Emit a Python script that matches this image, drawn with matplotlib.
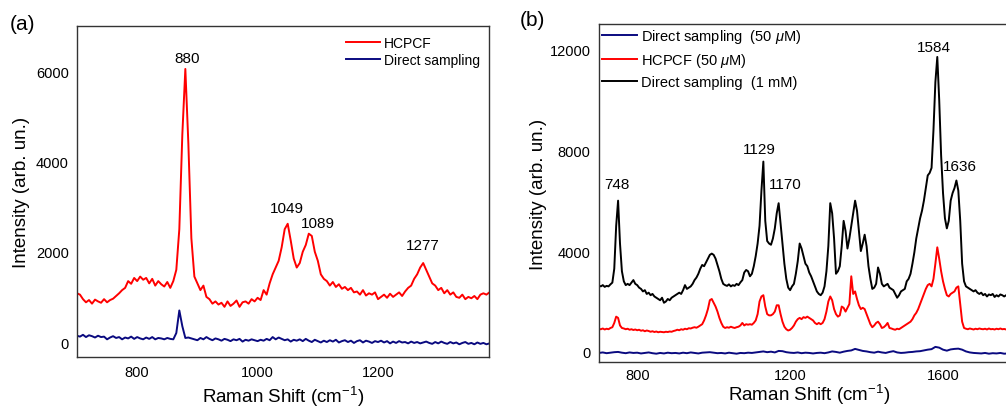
import numpy as np
import matplotlib
matplotlib.use("Agg")
import matplotlib.pyplot as plt

plt.rcParams["font.family"] = ["Liberation Sans", "DejaVu Sans"]
plt.rcParams["mathtext.fontset"] = "custom"
plt.rcParams["mathtext.rm"] = "Liberation Sans"
plt.rcParams["mathtext.it"] = "Liberation Sans:italic"

RED = "#ff0000"
NAVY = "#0a0a80"

# ---------- panel (a): 700-1385 cm-1, step 5 ----------
shift_a = np.arange(700, 1390, 5)
hcpcf_a = [
    1080, 1050, 950, 880, 930, 850, 940, 900, 870, 950,
    880, 930, 960, 1020, 1080, 1150, 1200, 1350, 1290, 1420,
    1350, 1450, 1380, 1420, 1300, 1400, 1250, 1350, 1280, 1230,
    1330, 1200, 1350, 1600, 2500, 4600, 6050, 4400, 2300, 1450,
    1300, 1150, 1250, 1000, 950, 850, 900, 830, 870, 780,
    900, 800, 850, 920, 780, 880, 900, 850, 950, 900,
    980, 930, 1150, 1050, 1300, 1500, 1650, 1800, 2100, 2500,
    2620, 2250, 1850, 1650, 1750, 2000, 2150, 2400, 2350, 2000,
    1800, 1500, 1400, 1350, 1250, 1330, 1220, 1280, 1180, 1220,
    1150, 1200, 1100, 1120, 1050, 1150, 1030, 1080, 1050, 1100,
    950, 1000, 1050, 980, 1070, 1000, 1050, 1100, 1020, 1120,
    1200, 1250, 1400, 1500, 1650, 1750, 1600, 1450, 1300, 1250,
    1150, 1200, 1080, 1150, 1050, 1100, 1000, 980, 1050, 950,
    1000, 970, 1020, 950, 1050, 1080, 1050, 1100,
]
direct_a = [
    140, 120, 160, 110, 150, 130, 100, 140, 110, 120,
    60, 100, 130, 90, 110, 60, 100, 80, 120, 70,
    110, 80, 60, 100, 70, 110, 60, 90, 80, 60,
    90, 70, 60, 200, 700, 350, 90, 100, 80, 60,
    40, 90, 60, 110, 70, 40, 80, 60, 30, 70,
    50, 20, 60, 40, 70, 10, 50, 30, 60, 40,
    20, 50, 30, 70, 40, 110, 60, 100, 70, 40,
    60, 10, 50, 30, 60, 20, 70, 30, 0, 50,
    20, -10, 30, 0, 40, 10, 50, -10, 20, 40,
    0, 30, -20, 20, 40, -10, 30, 10, -20, 20,
    0, 30, -10, 20, -30, 10, -20, 20, -10, 0,
    -30, 10, -20, 0, -30, -10, 10, -20, -40, 0,
    -30, 10, -20, -40, 0, -30, -10, -50, -20, 0,
    -40, -20, -50, -10, -40, -20, -50, -30,
]
peaks_a = [880, 1049, 1089, 1277]
peak_text_a = [(883, 6300), (1049, 2980), (1100, 2630), (1275, 2140)]

# ---------- panel (b): 700-1800 cm-1 ----------
shift_b = np.arange(700, 1805, 5)
direct_1mM = [
    2630, 2600, 2650, 2580, 2620, 2600, 2680, 2750, 3300, 5000,
    6000, 4300, 3200, 2800, 2650, 2700, 2650, 2750, 2850, 2700,
    2650, 2550, 2500, 2400, 2450, 2300, 2350, 2250, 2300, 2200,
    2150, 2100, 2050, 2150, 1950, 2000, 2100, 2050, 2150, 2200,
    2250, 2300, 2350, 2300, 2450, 2650, 2500, 2550, 2600, 2700,
    2850, 2950, 3100, 3300, 3450, 3400, 3550, 3700, 3850, 3900,
    3850, 3700, 3450, 3200, 2900, 2700, 2650, 2620, 2680, 2600,
    2650, 2620, 2700, 2650, 2760, 2850, 3150, 3250, 3200, 3000,
    3100, 3400, 3800, 4300, 5000, 6400, 7550, 5200, 4400, 4300,
    4250, 4500, 4900, 5500, 5900, 5100, 4300, 3500, 2900, 2550,
    2450, 2600, 2700, 3100, 3600, 4300, 4100, 3800, 3500, 3400,
    3150, 3000, 2800, 2600, 2400, 2300, 2250, 2350, 2600, 3200,
    4200, 5900, 5500, 4500, 3100, 3200, 3400, 4200, 5200, 4800,
    4100, 4500, 5000, 5500, 6000, 5600, 4800, 4000, 4300, 4650,
    4200, 3400, 2900, 2500, 2550, 2700, 3350, 3100, 2700, 2600,
    2650, 2700, 2550, 2500, 2450, 2300, 2150, 2250, 2400, 2450,
    2500, 2800, 2900, 3100, 3500, 3950, 4500, 4900, 5300, 5600,
    6000, 6500, 7000, 7100, 7300, 8800, 10700, 11700, 10000, 7800,
    6300, 5300, 4900, 5200, 6000, 6300, 6500, 6800, 6400, 5200,
    3500, 2800, 2600, 2550, 2500, 2450, 2400, 2450, 2350, 2300,
    2350, 2250, 2300, 2200, 2280, 2250, 2300, 2180, 2250, 2200,
    2280, 2250, 2200, 2250, 2150, 2230, 2200, 2250, 2180, 2220,
    2200,
]
hcpcf_50uM = [
    910, 900, 930, 890, 920, 900, 950, 980, 1150, 1400,
    1350, 1050, 950, 930, 900, 920, 880, 900, 870, 890,
    860, 880, 840, 860, 820, 850, 830, 800, 820, 790,
    810, 780, 800, 790, 780, 800, 790, 810, 800, 830,
    850, 880, 860, 900, 880, 920, 900, 940, 930, 960,
    980, 960, 1000, 1050, 1100, 1250, 1450, 1700, 2050, 2100,
    1950, 1800, 1600, 1350, 1150, 1000, 950, 980, 960, 1000,
    970, 950, 980, 1000, 1050, 1150, 1050, 1100, 1080, 1100,
    1080, 1150, 1250, 1500, 2000, 2200, 2250, 1800, 1500, 1450,
    1450, 1500, 1600, 1850, 1850, 1500, 1200, 1000, 900, 850,
    880, 950, 1050, 1200, 1300, 1350, 1300, 1380, 1350, 1400,
    1350, 1300, 1250, 1150, 1100, 1150, 1100, 1150, 1300, 1600,
    2000, 2200, 2050, 1700, 1500, 1400, 1450, 1800, 1750, 1600,
    1750, 1900, 3000, 2300, 2400, 2100, 1850, 1700, 1750, 1700,
    1500, 1300, 1100, 980, 1050, 1150, 1200, 1100, 950, 980,
    1050, 1150, 950, 930, 900, 880, 920, 900, 950, 1000,
    1050, 1100, 1150, 1200, 1300, 1450, 1550, 1700, 1900, 2100,
    2300, 2500, 2650, 2700, 2600, 2900, 3500, 4150, 3700, 3200,
    2800, 2500, 2250, 2200, 2300, 2350, 2400, 2550, 2600, 1900,
    1200, 950, 920, 900, 930, 910, 890, 920, 900, 930,
    910, 900, 920, 890, 930, 900, 910, 890, 920, 900,
    930, 900, 910, 890, 920, 900, 930, 910, 900, 920,
    910,
]
shift_b_blue = np.arange(700, 1810, 10)
direct_50uM = [
    -40, -20, -50, -30, -10, 0, -30, -50, -20, -40,
    -30, -60, -40, -20, -50, -70, -40, -60, -30, -50,
    -40, -60, -30, -50, -20, -40, -60, -30, -20, -10,
    -30, -50, -40, -60, -30, -50, -70, -40, -50, -30,
    -40, -20, 0, 20, -10, 10, -20, 40, 30, -10,
    -30, -40, -20, -50, -30, -40, -60, -40, -30, -50,
    -20, 20, 0, -30, 10, 40, 60, 120, 80, 40,
    20, -10, -30, 10, -20, -40, 0, 30, -20, -40,
    -30, -10, 0, 20, 30, 60, 90, 110, 200, 170,
    90, 50, 100, 120, 130, 90, 20, -20, -40, -50,
    -60, -40, -70, -50, -60, -40, -70, -60, -80, -50,
    -60,
]
peaks_b = [748, 1129, 1170, 1584, 1636]
peak_text_b = [(748, 6650), (1119, 8040), (1187, 6650), (1576, 12080), (1644, 7370)]

fig = plt.figure(figsize=(10.06, 4.10), dpi=100)
ax_a = fig.add_axes([0.0765, 0.127, 0.410, 0.807])
ax_b = fig.add_axes([0.5954, 0.1146, 0.418, 0.824])

# ----- (a) -----
ax_a.plot(shift_a, hcpcf_a, color=RED, lw=1.4, label="HCPCF")
ax_a.plot(shift_a, direct_a, color=NAVY, lw=1.4, label="Direct sampling")
for p, (tx, ty) in zip(peaks_a, peak_text_a):
    ax_a.text(tx, ty, str(p), ha="center", va="center", fontsize=11)
ax_a.set_xlim(700, 1385)
ax_a.set_ylim(-330, 7000)
ax_a.set_xticks([800, 1000, 1200])
ax_a.set_yticks([0, 2000, 4000, 6000])
ax_a.legend(loc="upper right", frameon=False, fontsize=10, handlelength=2.4,
            handletextpad=0.3, labelspacing=0.25, borderaxespad=0.3)
ax_a.set_xlabel("Raman Shift (cm$^{-1}$)", fontsize=13.5, labelpad=3)
ax_a.set_ylabel("Intensity (arb. un.)", fontsize=13.5, labelpad=4)
fig.text(0.022, 0.94, "(a)", fontsize=15, ha="center", va="center")

# ----- (b) -----
ax_b.plot(shift_b_blue, direct_50uM, color=NAVY, lw=1.4,
          label="Direct sampling  (50 $\\mu$M)")
ax_b.plot(shift_b, hcpcf_50uM, color=RED, lw=1.4, label="HCPCF (50 $\\mu$M)")
ax_b.plot(shift_b, direct_1mM, color="black", lw=1.4, label="Direct sampling  (1 mM)")
for p, (tx, ty) in zip(peaks_b, peak_text_b):
    ax_b.text(tx, ty, str(p), ha="center", va="center", fontsize=11)
ax_b.set_xlim(700, 1800)
ax_b.set_ylim(-400, 13000)
ax_b.set_xticks([800, 1200, 1600])
ax_b.set_yticks([0, 4000, 8000, 12000])
ax_b.legend(loc="upper left", frameon=False, fontsize=10.5, handlelength=2.4,
            handletextpad=0.3, labelspacing=0.42, borderaxespad=0.0, borderpad=0.2)
ax_b.set_xlabel("Raman Shift (cm$^{-1}$)", fontsize=13.5, labelpad=0)
ax_b.set_ylabel("Intensity (arb. un.)", fontsize=13.5, labelpad=2)
fig.text(0.529, 0.95, "(b)", fontsize=15, ha="center", va="center")

for ax in (ax_a, ax_b):
    ax.tick_params(length=0, labelsize=10.5, pad=6)
    for s in ax.spines.values():
        s.set_color("#333333")
        s.set_linewidth(1.0)
ax_b.tick_params(axis="x", pad=4)

fig.savefig("out.png", dpi=100)
